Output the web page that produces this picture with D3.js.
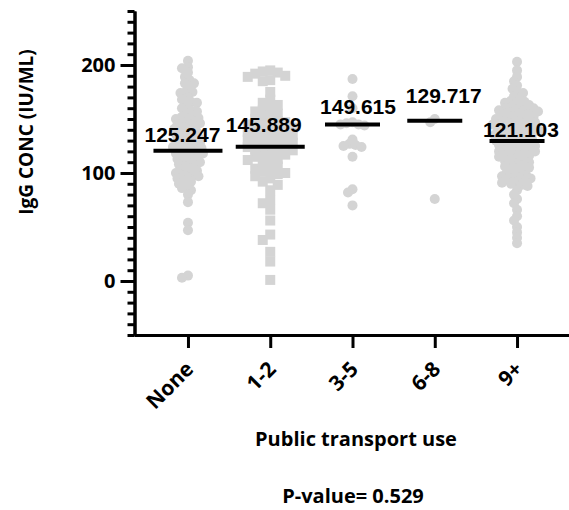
<!DOCTYPE html>
<html lang="en">
<head>
    <script src='https://d3js.org/d3.v7.min.js'></script>
    <style>
        body { margin: 0; background: #fff; }
        text { font-family: 'Open Sans', sans-serif; font-weight: 700; fill: #000; }
    </style>
</head>
<body>
<script>
    var width = 569, height = 510;

    // groups on the x axis
    var categories = ['None', '1-2', '3-5', '6-8', '9+'];

    // IgG values, one array per group
    var noneVals = [204, 198, 197, 193, 189, 186, 183, 183, 180, 176, 175, 174, 170, 168, 166, 165, 162, 160,
        158, 157, 155, 153, 152, 151, 150, 150, 148, 147, 146, 145, 145, 143, 142, 141, 140, 139, 138, 137, 136,
        135, 134, 133, 132, 131, 130, 129, 128, 127, 126, 125, 124, 124, 123, 122, 121, 120, 119, 118, 118, 117,
        116, 115, 114, 113, 112, 111, 110, 109, 108, 107, 106, 104, 103, 102, 101, 100, 99, 98, 97, 96, 95, 93,
        92, 90, 88, 86, 84, 80, 73, 54, 47, 5, 3];
    var oneTwoVals = [195, 194, 193, 192, 190, 189, 186, 185, 175, 168, 165, 163, 160, 158, 157, 155, 153, 151,
        150, 148, 147, 146, 145, 144, 143, 142, 141, 140, 139, 138, 137, 136, 135, 134, 133, 132, 131, 130, 129,
        128, 127, 126, 125, 124, 123, 122, 121, 120, 118, 117, 116, 115, 113, 112, 110, 108, 106, 104, 102, 101,
        100, 99, 97, 95, 92, 89, 84, 75, 72, 66, 56, 43, 38, 27, 18, 1];
    var threeFiveVals = [187, 171, 160, 147, 146, 145, 145, 144, 131, 127, 126, 125, 124, 115, 85, 82, 70];
    var sixEightVals = [150, 147, 76];
    var ninePlusVals = [203, 195, 189, 185, 181, 178, 175, 174, 171, 168, 167, 166, 165, 164, 163, 162, 161,
        160, 160, 159, 158, 158, 157, 156, 155, 155, 154, 153, 152, 152, 151, 150, 150, 149, 148, 148, 147, 146,
        146, 145, 145, 144, 143, 143, 142, 141, 141, 140, 139, 139, 138, 137, 137, 136, 135, 135, 134, 133, 132,
        132, 131, 130, 130, 129, 128, 128, 127, 126, 126, 125, 124, 123, 123, 122, 121, 120, 120, 119, 118, 117,
        116, 116, 115, 114, 113, 112, 111, 110, 109, 108, 107, 106, 105, 104, 103, 101, 100, 99, 98, 97, 96, 95,
        95, 94, 93, 92, 91, 90, 89, 88, 84, 80, 76, 72, 66, 60, 56, 50, 45, 40, 35];
    var groupVals = [noneVals, oneTwoVals, threeFiveVals, sixEightVals, ninePlusVals];

    // horizontal summary line per group and the printed labels
    var lineVals = [120.6, 124.3, 145, 148.4, 129.6];
    var lineLabels = ['125.247', '145.889', '149.615', '129.717', '121.103'];
    var labelAt = [129, 138.2, 154.6, 165.1, 133.6];

    var yMajorTicks = [0, 100, 200];
    var yMinorTicks = d3.range(-50, 251, 10);

    var svg = d3.select('body').append('svg').attr('width', width).attr('height', height);

    var y = d3.scaleLinear().domain([-50, 250]).range([335, 11]);
    var x = d3.scalePoint().domain(categories).range([134, 571]).padding(0.656);

    // simple beeswarm: put each dot as close to the centre as it can go
    function swarm(vals, minD, square) {
        var placed = [];
        vals.forEach(function(v) {
            var py = y(v);
            for (var k = 0; k < 200; k++) {
                var dx = (k % 2 === 0 ? 1 : -1) * Math.ceil(k / 2) * 1.5;
                var hit = placed.some(function(p) {
                    if (square) return Math.abs(p.dx - dx) < minD && Math.abs(p.y - py) < minD;
                    return (p.dx - dx) * (p.dx - dx) + (p.y - py) * (p.y - py) < minD * minD;
                });
                if (!hit) { placed.push({dx: dx, y: py, v: v}); break; }
            }
        });
        return placed;
    }

    var dotColor = '#d4d4d4';

    groupVals.forEach(function(vals, i) {
        var cx = x(categories[i]);
        var isSquare = categories[i] === '1-2';
        var pts = swarm(vals, isSquare ? 6.5 : 5, isSquare);
        if (isSquare) {
            svg.append('g').selectAll('rect').data(pts).join('rect')
                .attr('x', function(d) { return cx + d.dx - 5; })
                .attr('y', function(d) { return d.y - 5; })
                .attr('width', 10).attr('height', 10)
                .attr('fill', dotColor);
        } else {
            svg.append('g').selectAll('circle').data(pts).join('circle')
                .attr('cx', function(d) { return cx + d.dx; })
                .attr('cy', function(d) { return d.y; })
                .attr('r', 5)
                .attr('fill', dotColor);
        }
    });

    // summary lines
    var halfW = [34.5, 34.5, 27.5, 27.5, 27.5];
    svg.append('g').selectAll('line').data(lineVals).join('line')
        .attr('x1', function(d, i) { return x(categories[i]) - halfW[i]; })
        .attr('x2', function(d, i) { return x(categories[i]) + halfW[i]; })
        .attr('y1', function(d) { return y(d); })
        .attr('y2', function(d) { return y(d); })
        .attr('stroke', '#000').attr('stroke-width', 4);

    var labelDx = [-5.5, -6.5, 5.5, 9, 4];
    svg.append('g').selectAll('text').data(lineLabels).join('text')
        .attr('x', function(d, i) { return x(categories[i]) + labelDx[i]; })
        .attr('y', function(d, i) { return y(labelAt[i]); })
        .attr('text-anchor', 'middle')
        .style('font-family', "'Liberation Sans', Arial, sans-serif")
        .style('font-size', '21px')
        .text(function(d) { return d; });

    // y axis
    var yMinor = svg.append('g').attr('transform', 'translate(134.5,0)')
        .call(d3.axisLeft(y).tickValues(yMinorTicks).tickSize(7).tickSizeOuter(0).tickFormat(''));
    var yMajor = svg.append('g').attr('transform', 'translate(134.5,0)')
        .call(d3.axisLeft(y).tickValues(yMajorTicks).tickSize(14).tickSizeOuter(0).tickPadding(5));
    [yMinor, yMajor].forEach(function(g) {
        g.selectAll('path, line').attr('stroke', '#000').attr('stroke-width', 3);
    });
    yMajor.selectAll('text').style('font-size', '20px').style('font-family', "'Open Sans', sans-serif");

    // x axis
    var xAxis = svg.append('g').attr('transform', 'translate(0,335)')
        .call(d3.axisBottom(x).tickSize(13).tickSizeOuter(0));
    xAxis.selectAll('path, line').attr('stroke', '#000').attr('stroke-width', 3);
    xAxis.selectAll('text')
        .style('font-size', '21px')
        .style('font-family', "'Open Sans', sans-serif")
        .attr('text-anchor', 'end')
        .attr('y', 0).attr('dy', '0.7em')
        .attr('transform', 'translate(-4,25) rotate(-45)');

    svg.append('text')
        .attr('transform', 'translate(33,132) rotate(-90)')
        .attr('text-anchor', 'middle')
        .style('font-size', '19px')
        .text('IgG CONC (IU/ML)');

    svg.append('text')
        .attr('x', 356).attr('y', 446)
        .attr('text-anchor', 'middle')
        .style('font-size', '20px')
        .text('Public transport use');

    svg.append('text')
        .attr('x', 353).attr('y', 503)
        .attr('text-anchor', 'middle')
        .style('font-size', '20px')
        .text('P-value= 0.529');
</script>
</body>
</html>
